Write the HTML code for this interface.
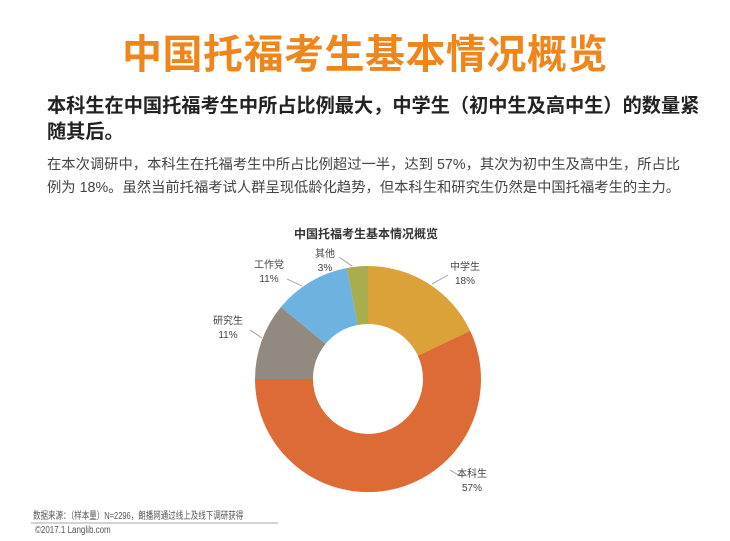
<!DOCTYPE html>
<html><head><meta charset="utf-8"><style>
body{margin:0;width:730px;height:541px;background:#fff;font-family:"Liberation Sans","Noto Sans CJK SC",sans-serif;position:relative;overflow:hidden}
.t{position:absolute;white-space:nowrap}
</style></head><body>
<div class="t" style="left:0;width:730px;text-align:center;top:22px;font-size:40px;font-weight:bold;color:#ef861c;letter-spacing:0.5px">中国托福考生基本情况概览</div>
<div class="t" style="left:47px;top:94px;font-size:19.2px;font-weight:bold;color:#222;line-height:26px">本科生在中国托福考生中所占比例最大，中学生（初中生及高中生）的数量紧<br>随其后。</div>
<div class="t" style="left:47px;top:154px;font-size:14.3px;color:#444;line-height:23px">在本次调研中，本科生在托福考生中所占比例超过一半，达到 57%，其次为初中生及高中生，所占比<br>例为 18%。虽然当前托福考试人群呈现低龄化趋势，但本科生和研究生仍然是中国托福考生的主力。</div>
<svg width="730" height="541" style="position:absolute;left:0;top:0">
<text x="366" y="238" text-anchor="middle" font-size="12" font-weight="bold" fill="#333">中国托福考生基本情况概览</text>
<path d="M368,266 A113,113 0 0 1 470.2,330.9 L417.8,355.6 A55,55 0 0 0 368,324Z" fill="#dca23a"/>
<path d="M470.2,330.9 A113,113 0 1 1 255,379 L313,379 A55,55 0 1 0 417.8,355.6Z" fill="#dd6b35"/>
<path d="M255,379 A113,113 0 0 1 280.9,307 L325.6,343.9 A55,55 0 0 0 313,379Z" fill="#928a80"/>
<path d="M280.9,307 A113,113 0 0 1 346.8,268 L357.7,325 A55,55 0 0 0 325.6,343.9Z" fill="#6eb2e2"/>
<path d="M346.8,268 A113,113 0 0 1 368,266 L368,324 A55,55 0 0 0 357.7,325Z" fill="#a8ad4e"/>
<g stroke="#999" stroke-width="0.8">
<line x1="432" y1="284" x2="448" y2="275"/>
<line x1="450" y1="470" x2="460" y2="476"/>
<line x1="250" y1="330" x2="262" y2="338"/>
<line x1="287" y1="279" x2="302" y2="286"/>
<line x1="339" y1="257" x2="352" y2="266"/>
</g>
<g font-size="10" fill="#444" text-anchor="middle">
<text x="465" y="270">中学生</text><text x="465" y="284">18%</text>
<text x="472" y="477">本科生</text><text x="472" y="491">57%</text>
<text x="228" y="324">研究生</text><text x="228" y="338">11%</text>
<text x="269" y="268">工作党</text><text x="269" y="282">11%</text>
<text x="325" y="257">其他</text><text x="325" y="271">3%</text>
</g>
<line x1="31" y1="523" x2="278" y2="523" stroke="#aaa" stroke-width="1"/>
</svg>
<div class="t" style="left:33px;top:507px;font-size:10px;color:#555;transform:scaleX(0.75);transform-origin:0 0">数据来源：（样本量）N=2296，朗播网通过线上及线下调研获得</div>
<div class="t" style="left:35px;top:525px;font-size:10px;color:#555;transform:scaleX(0.8);transform-origin:0 0">©2017.1 Langlib.com</div>
</body></html>
